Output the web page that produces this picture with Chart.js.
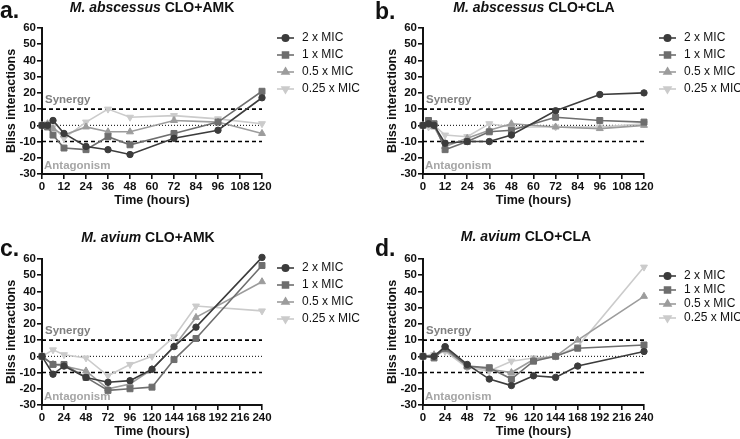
<!DOCTYPE html>
<html>
<head>
<meta charset="utf-8">
<script src="https://cdn.jsdelivr.net/npm/chart.js@4"></script>
<style>
  body { margin: 0; background: #fff; }
  #wrap { position: relative; width: 740px; height: 439px; overflow: hidden; }
  canvas { position: absolute; }
</style>
</head>
<body>
<div id="wrap">
  <canvas id="panelA" width="370" height="220" style="left:0;top:0"></canvas>
  <canvas id="panelB" width="370" height="220" style="left:370px;top:0"></canvas>
  <canvas id="panelC" width="370" height="219" style="left:0;top:220px"></canvas>
  <canvas id="panelD" width="370" height="219" style="left:370px;top:220px"></canvas>
</div>
<script>
// Series names and time points
let seriesLabels = ["2 x MIC", "1 x MIC", "0.5 x MIC", "0.25 x MIC"];
let timesAbscessus = [0, 3, 6, 12, 24, 36, 48, 72, 96, 120];
let timesAvium = [0, 12, 24, 48, 72, 96, 120, 144, 168, 240];

// Tick labels
let xTicksAbscessus = [0, 12, 24, 36, 48, 60, 72, 84, 96, 108, 120];
let xTicksAvium = [0, 24, 48, 72, 96, 120, 144, 168, 192, 216, 240];
let yTicks = [-30, -20, -10, 0, 10, 20, 30, 40, 50, 60];

// a. M. abscessus CLO+AMK
let absAmk2x = [0, 0, 3, -5, -13, -15, -18, -8, -3, 17];
let absAmk1x = [0, -1, -6, -14, -15, -7, -12, -5, 2, 21];
let absAmk05x = [0, 1, -2, -6, -1, -4, -4, 3, 2, -5];
let absAmk025x = [0, 1, -1, -8, 2, 10, 5, 6, 4, 1];

// b. M. abscessus CLO+CLA
let absCla2x = [0, 1, 0, -11, -10, -10, -6, 9, 19, 20];
let absCla1x = [0, 3, 1, -15, -10, -4, -3, 5, 3, 2];
let absCla05x = [0, 0, -1, -13, -8, -3, 1, -1, -2, 0];
let absCla025x = [0, -1, 0, -6, -7, 1, -1, -1, -1, 1];

// c. M. avium CLO+AMK
let avAmk2x = [0, -11, -6, -13, -16, -15, -8, 6, 18, 61];
let avAmk1x = [0, -5, -5, -13, -21, -20, -19, -2, 11, 56];
let avAmk05x = [0, -5, -6, -9, -20, -17, -8, 6, 24, 46];
let avAmk025x = [0, 4, 1, -1, -12, -5, 0, 12, 31, 28];

// d. M. avium CLO+CLA
let avCla2x = [0, 0, 6, -5, -14, -18, -12, -13, -6, 3];
let avCla1x = [0, -1, 5, -6, -7, -14, -3, 0, 5, 7];
let avCla05x = [0, 1, 4, -6, -8, -10, -2, 0, 10, 37];
let avCla025x = [0, 1, 3, -7, -9, -3, -1, 0, 6, 55];

let colors = ["#3c3c3c", "#6e6e6e", "#9c9c9c", "#cbcbcb"];
let pointStyles = ["circle", "rect", "triangle", "triangle"];
let pointRotations = [0, 0, 0, 180];
let pointRadii = [3.2, 4.2, 4, 4];

const FONT = "Arial, 'Liberation Sans', sans-serif";

const decorPlugin = {
  id: "decor",
  beforeDatasetsDraw(chart, args, opts) {
    const { ctx, chartArea } = chart;
    const y = chart.scales.y;
    ctx.save();
    // synergy / antagonism thresholds
    ctx.strokeStyle = "#000";
    ctx.lineWidth = 1.6;
    ctx.setLineDash([4, 3]);
    [10, -10].forEach((v) => {
      let py = y.getPixelForValue(v);
      ctx.beginPath();
      ctx.moveTo(chartArea.left, py);
      ctx.lineTo(chartArea.right, py);
      ctx.stroke();
    });
    ctx.lineWidth = 1;
    ctx.setLineDash([1, 2]);
    let p0 = y.getPixelForValue(0);
    ctx.beginPath();
    ctx.moveTo(chartArea.left, p0);
    ctx.lineTo(chartArea.right, p0);
    ctx.stroke();
    ctx.setLineDash([]);

    ctx.font = "bold 11.5px " + FONT;
    ctx.textBaseline = "middle";
    ctx.textAlign = "left";
    ctx.fillStyle = "#808080";
    ctx.fillText("Synergy", chartArea.left + 3, y.getPixelForValue(15.5));
    ctx.fillStyle = "#a6a6a6";
    ctx.fillText("Antagonism", chartArea.left + 2, y.getPixelForValue(-25));
    ctx.restore();
  },
  afterDraw(chart, args, opts) {
    const { ctx, chartArea } = chart;
    ctx.save();

    // panel letter
    ctx.fillStyle = "#111";
    ctx.font = "bold 23px " + FONT;
    ctx.textBaseline = "alphabetic";
    ctx.textAlign = "left";
    ctx.fillText(opts.letter, opts.letterX, opts.letterY);

    // title: italic species + drug pair
    let italicFont = "italic bold 14px " + FONT;
    let plainFont = "bold 14px " + FONT;
    ctx.font = italicFont;
    let w1 = ctx.measureText(opts.species).width;
    ctx.font = plainFont;
    let w2 = ctx.measureText(" " + opts.drugs).width;
    let tx = opts.titleX - (w1 + w2) / 2;
    ctx.font = italicFont;
    ctx.fillText(opts.species, tx, opts.titleY);
    ctx.font = plainFont;
    ctx.fillText(" " + opts.drugs, tx + w1, opts.titleY);

    // legend
    ctx.font = "12px " + FONT;
    ctx.textBaseline = "middle";
    chart.data.datasets.forEach((ds, i) => {
      let ly = chartArea.top + opts.legendTop + i * opts.legendGap;
      let lx = chartArea.right + 15;
      ctx.strokeStyle = colors[i];
      ctx.lineWidth = 1.6;
      ctx.beginPath();
      ctx.moveTo(lx, ly);
      ctx.lineTo(lx + 17, ly);
      ctx.stroke();
      ctx.fillStyle = colors[i];
      Chart.helpers.drawPoint(ctx, {
        pointStyle: pointStyles[i],
        rotation: pointRotations[i],
        radius: pointRadii[i],
        borderWidth: 1,
      }, lx + 8.5, ly);
      ctx.fillStyle = "#111";
      ctx.fillText(ds.label, chartArea.right + 40, ly);
    });
    ctx.restore();
  },
};

function makePanel(canvasId, p) {
  let canvas = document.getElementById(canvasId);
  let datasets = p.series.map((vals, i) => ({
    label: seriesLabels[i],
    data: vals.map((v, k) => ({ x: p.times[k], y: v })),
    borderColor: colors[i],
    backgroundColor: colors[i],
    borderWidth: 1.6,
    pointStyle: pointStyles[i],
    rotation: pointRotations[i],
    pointRadius: pointRadii[i],
    pointBorderWidth: 1,
    clip: false,
  }));

  return new Chart(canvas.getContext("2d"), {
    type: "line",
    data: { datasets: datasets },
    plugins: [decorPlugin],
    options: {
      responsive: false,
      animation: false,
      layout: {
        padding: {
          left: p.area.left - 42,
          top: p.area.top,
          right: canvas.width - p.area.right,
          bottom: Math.max(0, canvas.height - p.area.bottom - 34),
        },
      },
      plugins: {
        legend: { display: false },
        tooltip: { enabled: false },
        decor: p.decor,
      },
      scales: {
        x: {
          type: "linear",
          min: 0,
          max: p.xMax,
          afterBuildTicks: (scale) => {
            scale.ticks = p.xTicks.map((v) => ({ value: v }));
          },
          afterFit: (scale) => {
            scale.height = 34;
          },
          grid: { drawOnChartArea: false, drawTicks: true, tickLength: 5, color: "#111", lineWidth: 1.6 },
          border: { color: "#111", width: 2 },
          ticks: {
            autoSkip: false,
            maxRotation: 0,
            padding: 1,
            color: "#111",
            font: { family: FONT, size: 11.5, weight: "bold" },
          },
          title: {
            display: true,
            text: "Time (hours)",
            color: "#111",
            padding: 0,
            font: { family: FONT, size: 12.5, weight: "bold" },
          },
        },
        y: {
          min: -30,
          max: 60,
          afterBuildTicks: (scale) => {
            scale.ticks = yTicks.map((v) => ({ value: v }));
          },
          afterFit: (scale) => {
            scale.width = 42;
          },
          grid: { drawOnChartArea: false, drawTicks: true, tickLength: 5, color: "#111", lineWidth: 1.6 },
          border: { color: "#111", width: 2 },
          ticks: {
            autoSkip: false,
            padding: 1,
            color: "#111",
            font: { family: FONT, size: 11.5, weight: "bold" },
          },
          title: {
            display: true,
            text: "Bliss interactions",
            color: "#111",
            padding: { top: 4, bottom: 0 },
            font: { family: FONT, size: 12.5, weight: "bold" },
          },
        },
      },
    },
  });
}

makePanel("panelA", {
  times: timesAbscessus,
  series: [absAmk2x, absAmk1x, absAmk05x, absAmk025x],
  xMax: 120,
  xTicks: xTicksAbscessus,
  area: { left: 42, top: 28, right: 262, bottom: 174 },
  decor: { letter: "a.", letterX: 0, letterY: 18, species: "M. abscessus", drugs: "CLO+AMK", titleX: 152, titleY: 12, legendTop: 10, legendGap: 17 },
});

makePanel("panelB", {
  times: timesAbscessus,
  series: [absCla2x, absCla1x, absCla05x, absCla025x],
  xMax: 120,
  xTicks: xTicksAbscessus,
  area: { left: 53, top: 28, right: 274, bottom: 174 },
  decor: { letter: "b.", letterX: 5, letterY: 19, species: "M. abscessus", drugs: "CLO+CLA", titleX: 164, titleY: 12, legendTop: 10, legendGap: 17 },
});

makePanel("panelC", {
  times: timesAvium,
  series: [avAmk2x, avAmk1x, avAmk05x, avAmk025x],
  xMax: 240,
  xTicks: xTicksAvium,
  area: { left: 42, top: 39, right: 262, bottom: 185 },
  decor: { letter: "c.", letterX: 0, letterY: 36, species: "M. avium", drugs: "CLO+AMK", titleX: 148, titleY: 22, legendTop: 9, legendGap: 17 },
});

makePanel("panelD", {
  times: timesAvium,
  series: [avCla2x, avCla1x, avCla05x, avCla025x],
  xMax: 240,
  xTicks: xTicksAvium,
  area: { left: 53, top: 39, right: 274, bottom: 185 },
  decor: { letter: "d.", letterX: 5, letterY: 36, species: "M. avium", drugs: "CLO+CLA", titleX: 156, titleY: 21, legendTop: 17, legendGap: 14 },
});
</script>
</body>
</html>
